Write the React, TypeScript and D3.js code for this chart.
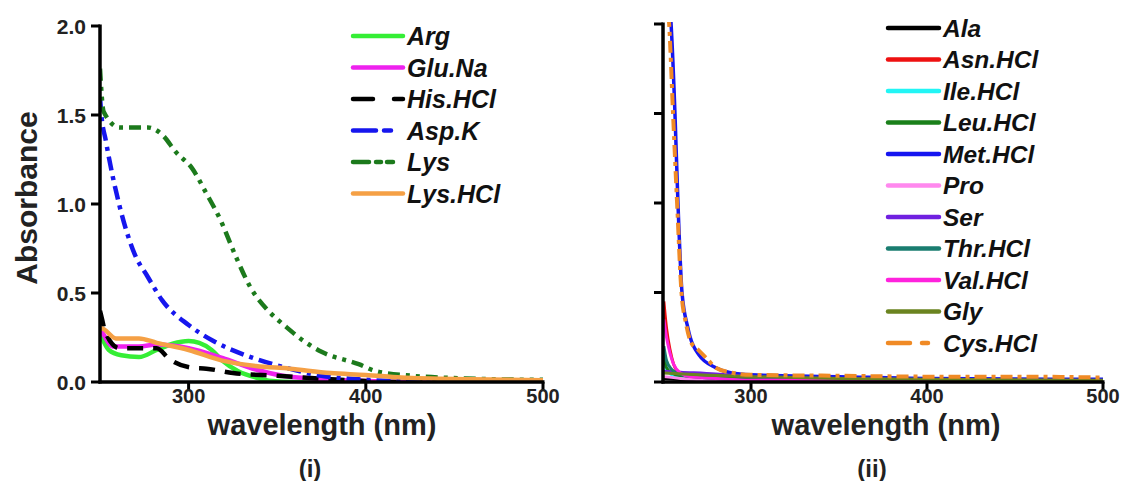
import React from "react";
import * as d3 from "d3";

type Pt = [number, number];

// ---------- Panel (i) data ----------
const argData: Pt[] = [[250,0.27],[251,0.25],[255,0.18],[262,0.15],[272,0.14],[282,0.18],[291,0.215],[300,0.23],[306,0.22],[313,0.18],[319,0.12],[328,0.06],[338,0.025],[347,0.006],[360,0],[500,0]];
const gluData: Pt[] = [[250,0.29],[251,0.28],[257,0.2],[272,0.2],[282,0.21],[300,0.19],[319,0.135],[338,0.07],[353,0.035],[370,0.02],[400,0.005],[430,0],[500,0]];
const hisData: Pt[] = [[250,0.4],[251,0.36],[253,0.28],[261,0.19],[270,0.19],[282,0.19],[289,0.13],[302,0.08],[310,0.075],[325,0.05],[350,0.035],[380,0.015],[400,0.005],[420,0],[500,0]];
const aspData: Pt[] = [[250,1.6],[250.6,1.52],[253.4,1.35],[261,0.99],[269.5,0.72],[277,0.59],[285,0.46],[300,0.32],[314,0.23],[335,0.14],[355,0.08],[375,0.035],[396,0.015],[420,0.005],[500,0.002]];
const lysData: Pt[] = [[250,1.76],[252,1.52],[261,1.43],[277,1.43],[285,1.39],[293,1.29],[302,1.2],[310,1.06],[318,0.91],[326,0.72],[335,0.53],[345,0.4],[355,0.31],[365,0.23],[375,0.17],[396,0.1],[406,0.06],[426,0.035],[456,0.02],[500,0.012]];
const lysHclData: Pt[] = [[250,0.3],[251,0.3],[259,0.245],[272,0.245],[282,0.22],[300,0.18],[319,0.12],[338,0.09],[357,0.075],[380,0.05],[400,0.04],[420,0.025],[460,0.015],[500,0.01]];

// ---------- Panel (ii) data ----------
const alaData: Pt[] = [[250.5,0.02],[270,0.01],[300,0.005],[500,0.002]];
const asnData: Pt[] = [[250.5,0.45],[252,0.3],[254,0.18],[256,0.1],[258,0.06],[262,0.03],[280,0.015],[300,0.01],[500,0.005]];
const ileData: Pt[] = [[250.5,0.1],[255,0.04],[270,0.02],[300,0.01],[500,0.004]];
const leuData: Pt[] = [[250.5,0.15],[252,0.08],[255,0.05],[260,0.035],[280,0.025],[300,0.02],[400,0.01],[500,0.006]];
const metData: Pt[] = [[254.3,2.05],[254.6,2.0],[256.8,1.5],[258.5,1.0],[260.8,0.5],[264.2,0.3],[270.5,0.15],[280,0.08],[289,0.05],[300,0.04],[350,0.03],[400,0.02],[500,0.015]];
const proData: Pt[] = [[250.5,0.03],[260,0.02],[280,0.01],[300,0.005],[500,0.002]];
const serData: Pt[] = [[250.5,0.06],[260,0.055],[280,0.045],[300,0.03],[320,0.02],[350,0.01],[500,0.005]];
const thrData: Pt[] = [[250.5,0.2],[252,0.12],[255,0.07],[260,0.04],[280,0.02],[300,0.01],[500,0.005]];
const valData: Pt[] = [[250.5,0.35],[252,0.25],[254,0.16],[256,0.1],[260,0.05],[265,0.03],[280,0.02],[300,0.01],[500,0.004]];
const glyData: Pt[] = [[250.5,0.05],[270,0.04],[300,0.03],[350,0.02],[400,0.015],[500,0.01]];
const cysData: Pt[] = [[253.2,2.05],[253.5,2.0],[255.7,1.5],[258,1.0],[260.5,0.5],[263,0.33],[266,0.22],[270,0.18],[275,0.13],[280,0.08],[290,0.05],[300,0.04],[350,0.035],[400,0.03],[450,0.03],[500,0.025]];

const xTicks = [300, 400, 500];
const yTicks = [0, 0.5, 1.0, 1.5, 2.0];

interface Series { name: string; data: Pt[]; color: string; dash?: string; legendDash?: string; width: number; }

const seriesI: Series[] = [
  { name: "Arg", data: argData, color: "#35ee35", width: 4.5 },
  { name: "Glu.Na", data: gluData, color: "#ee22ee", width: 4.5 },
  { name: "His.HCl", data: hisData, color: "#000000", dash: "16,10", legendDash: "20,21,10", width: 4.5 },
  { name: "Asp.K", data: aspData, color: "#1616ee", dash: "14,6,4,6", legendDash: "23,8,7,40", width: 4.5 },
  { name: "Lys", data: lysData, color: "#1c7a1c", dash: "12,6,4,6,4,6", legendDash: "16,7,5,6,6,40", width: 4.5 },
  { name: "Lys.HCl", data: lysHclData, color: "#f5a045", width: 4.5 },
];

const seriesII: Series[] = [
  { name: "Ala", data: alaData, color: "#000000", width: 3 },
  { name: "Asn.HCl", data: asnData, color: "#ee1111", width: 3 },
  { name: "Ile.HCl", data: ileData, color: "#22f5f5", width: 3 },
  { name: "Leu.HCl", data: leuData, color: "#1a801a", width: 3 },
  { name: "Met.HCl", data: metData, color: "#1515f0", width: 3.5 },
  { name: "Pro", data: proData, color: "#ff88ee", width: 3 },
  { name: "Ser", data: serData, color: "#7020e0", width: 3 },
  { name: "Thr.HCl", data: thrData, color: "#1a7d70", width: 3 },
  { name: "Val.HCl", data: valData, color: "#ff22dd", width: 3 },
  { name: "Gly", data: glyData, color: "#6b8420", width: 3 },
  { name: "Cys.HCl", data: cysData, color: "#f08a25", dash: "12,5,4,5", legendDash: "22,12,6,40", width: 4 },
];

const FONT = "'Liberation Sans', Arial, sans-serif";

interface PanelProps {
  series: Series[];
  x0: number; x1: number; y0: number; y1: number;
  showYLabels: boolean;
  legendX: number; legendY: number; legendStep: number; legendLen: number; legendFont: number;
  clipId: string;
  xTitleX: number; caption: string; captionX: number;
}

function Panel(p: PanelProps) {
  const x = d3.scaleLinear().domain([250, 500]).range([p.x0, p.x1]);
  const y = d3.scaleLinear().domain([0, 2]).range([p.y0, p.y1]);
  const line = d3.line<Pt>().x(d => x(d[0])).y(d => y(d[1])).curve(d3.curveMonotoneX);
  return (
    <g>
      <defs>
        <clipPath id={p.clipId}>
          <rect x={p.x0} y={p.y1 - 2} width={p.x1 - p.x0 + 4} height={p.y0 - p.y1 + 2} />
        </clipPath>
      </defs>
      <g clipPath={`url(#${p.clipId})`}>
        {p.series.map(s => (
          <path key={s.name} d={line(s.data) || ""} fill="none" stroke={s.color}
            strokeWidth={s.width} strokeDasharray={s.dash} strokeLinejoin="round" />
        ))}
      </g>
      {/* axes */}
      <line x1={p.x0} x2={p.x0} y1={y(2) - 1.5} y2={y(0) + 1.5} stroke="#000" strokeWidth={3.5} />
      <line x1={p.x0 - 1.5} x2={p.x1 + 1.5} y1={y(0)} y2={y(0)} stroke="#000" strokeWidth={3.5} />
      {yTicks.map(t => (
        <g key={t}>
          <line x1={p.x0 - 9} x2={p.x0} y1={y(t)} y2={y(t)} stroke="#000" strokeWidth={3} />
          {p.showYLabels && (
            <text x={p.x0 - 14} y={y(t)} dy="0.36em" textAnchor="end" fontFamily={FONT}
              fontWeight="bold" fontSize={21} fill="#222">{t.toFixed(1)}</text>
          )}
        </g>
      ))}
      {xTicks.map(t => (
        <g key={t}>
          <line x1={x(t)} x2={x(t)} y1={y(0)} y2={y(0) + 8} stroke="#000" strokeWidth={3} />
          <text x={x(t)} y={y(0) + 21} textAnchor="middle" fontFamily={FONT}
            fontWeight="bold" fontSize={20} fill="#222">{t}</text>
        </g>
      ))}
      <text x={p.xTitleX} y={435} textAnchor="middle" fontFamily={FONT} fontWeight="bold"
        fontSize={29} fill="#222">wavelength (nm)</text>
      <text x={p.captionX} y={477} textAnchor="middle" fontFamily={FONT} fontWeight="bold"
        fontSize={24} fill="#222">{p.caption}</text>
      {/* legend */}
      {p.series.map((s, i) => {
        const ly = p.legendY + i * p.legendStep;
        return (
          <g key={s.name}>
            <line x1={p.legendX} x2={p.legendX + p.legendLen} y1={ly} y2={ly} stroke={s.color}
              strokeWidth={4.5} strokeDasharray={s.legendDash} strokeLinecap="round" />
            <text x={p.legendX + p.legendLen + 4} y={ly} dy="0.36em" fontFamily={FONT}
              fontWeight="bold" fontStyle="italic" fontSize={p.legendFont} fill="#111">{s.name}</text>
          </g>
        );
      })}
    </g>
  );
}

export default function App() {
  return (
    <svg width={1129} height={481} style={{ position: "absolute", left: 0, top: 0, background: "#fff" }}>
      <rect x={0} y={0} width={1129} height={481} fill="#fff" />
      <text transform="translate(37,198) rotate(-90)" textAnchor="middle" fontFamily={FONT}
        fontWeight="bold" fontSize={30} fill="#222">Absorbance</text>
      <Panel series={seriesI} x0={100} x1={543} y0={382} y1={26} showYLabels={true}
        legendX={353} legendY={36} legendStep={31.5} legendLen={50} legendFont={25} clipId="c1"
        xTitleX={322} caption="(i)" captionX={310} />
      <Panel series={seriesII} x0={663} x1={1103} y0={382} y1={24} showYLabels={false}
        legendX={888} legendY={28} legendStep={31.5} legendLen={51} legendFont={24.5} clipId="c2"
        xTitleX={886} caption="(ii)" captionX={872} />
    </svg>
  );
}
